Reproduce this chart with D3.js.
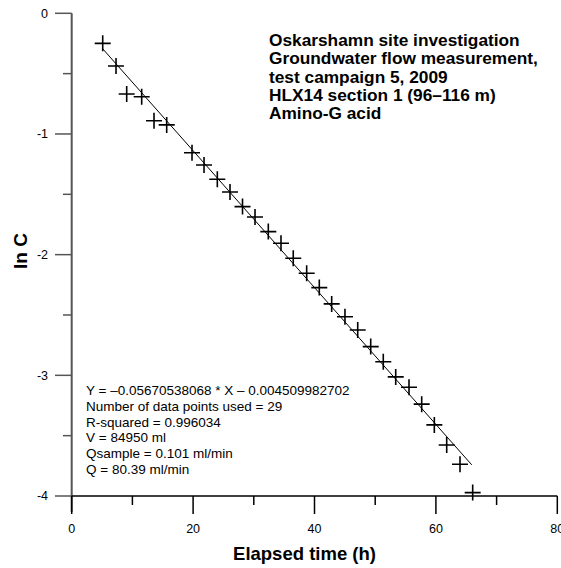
<!DOCTYPE html>
<html><head><meta charset="utf-8">
<script src="https://cdn.jsdelivr.net/npm/d3@7"></script>
<style>body{margin:0;background:#fff}svg{display:block;font-family:"Liberation Sans",Arial,sans-serif}</style>
</head><body><svg id="c" width="561" height="568"></svg>
<script>
const timeH = [5.11,7.30,9.06,11.53,13.56,15.65,19.82,21.80,23.99,26.08,28.14,30.20,32.39,34.48,36.50,38.71,40.79,42.83,45.02,47.12,49.26,51.33,53.38,55.57,57.66,59.74,61.78,63.97,66.06];
const lnC = [-0.249,-0.437,-0.669,-0.691,-0.890,-0.925,-1.155,-1.257,-1.375,-1.481,-1.602,-1.688,-1.809,-1.906,-2.030,-2.154,-2.273,-2.408,-2.514,-2.624,-2.762,-2.887,-3.013,-3.099,-3.239,-3.411,-3.577,-3.737,-3.972];
const fitSlope = -0.05670538068, fitIntercept = -0.004509982702;
const xMajorTicks = [0,20,40,60,80], xMinorTicks = [10,30,50,70];
const yMajorTicks = [0,-1,-2,-3,-4], yMinorTicks = [-0.5,-1.5,-2.5,-3.5];
const titleLines = ["Oskarshamn site investigation","Groundwater flow measurement,","test campaign 5, 2009","HLX14 section 1 (96\u2013116 m)","Amino-G acid"];
const statLines = ["Y = \u20130.05670538068 * X \u2013 0.004509982702","Number of data points used = 29","R-squared = 0.996034","V = 84950 ml","Qsample = 0.101 ml/min","Q = 80.39 ml/min"];

const svg = d3.select("#c");
const x = d3.scaleLinear().domain([0,80]).range([71.7,557.3]);
const y = d3.scaleLinear().domain([0,-4]).range([13.3,496]);

// y axis
const ya = svg.append("g");
ya.append("line").attr("x1",x(0)).attr("x2",x(0)).attr("y1",y(0)).attr("y2",512).attr("stroke","#555").attr("stroke-width",2);
ya.selectAll(".ymaj").data(yMajorTicks).join("line").attr("x1",55).attr("x2",x(0)).attr("y1",d=>y(d)).attr("y2",d=>y(d)).attr("stroke","#555").attr("stroke-width",1.5);
ya.selectAll(".ymin").data(yMinorTicks).join("line").attr("x1",63).attr("x2",x(0)).attr("y1",d=>y(d)).attr("y2",d=>y(d)).attr("stroke","#555").attr("stroke-width",1.5);
ya.selectAll("text").data(yMajorTicks).join("text").attr("x",48).attr("y",d=>y(d)).attr("dy","0.35em").attr("text-anchor","end").attr("font-size",12.5).text(d=>d3.format("d")(d).replace("\u2212","-"));

// x axis
const xa = svg.append("g");
xa.append("line").attr("x1",x(0)).attr("x2",x(80)).attr("y1",y(-4)).attr("y2",y(-4)).attr("stroke","#000").attr("stroke-width",1.5);
xa.selectAll(".xmaj").data(xMajorTicks).join("line").attr("x1",d=>x(d)).attr("x2",d=>x(d)).attr("y1",y(-4)).attr("y2",514).attr("stroke","#000").attr("stroke-width",1.5);
xa.selectAll(".xmin").data(xMinorTicks).join("line").attr("x1",d=>x(d)).attr("x2",d=>x(d)).attr("y1",y(-4)).attr("y2",505).attr("stroke","#000").attr("stroke-width",1.5);
xa.selectAll("text").data(xMajorTicks).join("text").attr("x",d=>x(d)).attr("y",529).attr("dy","0.35em").attr("text-anchor","middle").attr("font-size",12.5).text(d=>d);

svg.append("text").attr("x",304.5).attr("y",554).attr("dy","0.35em").attr("text-anchor","middle").attr("font-size",18.5).attr("font-weight","bold").text("Elapsed time (h)");
svg.append("text").attr("transform","translate(20,251) rotate(-90)").attr("dy","0.35em").attr("text-anchor","middle").attr("font-size",19).attr("font-weight","bold").text("ln C");

// fit line
const x0 = d3.min(timeH), x1 = d3.max(timeH);
svg.append("line").attr("x1",x(x0)).attr("y1",y(fitSlope*x0+fitIntercept)).attr("x2",x(x1-0.15)).attr("y2",y(fitSlope*(x1-0.15)+fitIntercept)).attr("stroke","#000").attr("stroke-width",1);

// points
const pts = timeH.map((t,i)=>[t,lnC[i]]);
const g = svg.append("g").attr("stroke","#000").attr("stroke-width",1.6);
g.selectAll("path").data(pts).join("path").attr("fill","none")
 .attr("d",d=>{const px=x(d[0]),py=y(d[1]);return `M${px-8},${py}H${px+8}M${px},${py-8}V${py+8}`;});

// title
svg.append("g").selectAll("text").data(titleLines).join("text").attr("x",269).attr("y",(d,i)=>40+i*18.3).attr("dy","0.35em").attr("font-size",17.3).attr("font-weight","bold").text(d=>d);
// stats
svg.append("g").selectAll("text").data(statLines).join("text").attr("x",86).attr("y",(d,i)=>390.7+i*15.65).attr("dy","0.35em").attr("font-size",13.5).text(d=>d);
</script></body></html>
